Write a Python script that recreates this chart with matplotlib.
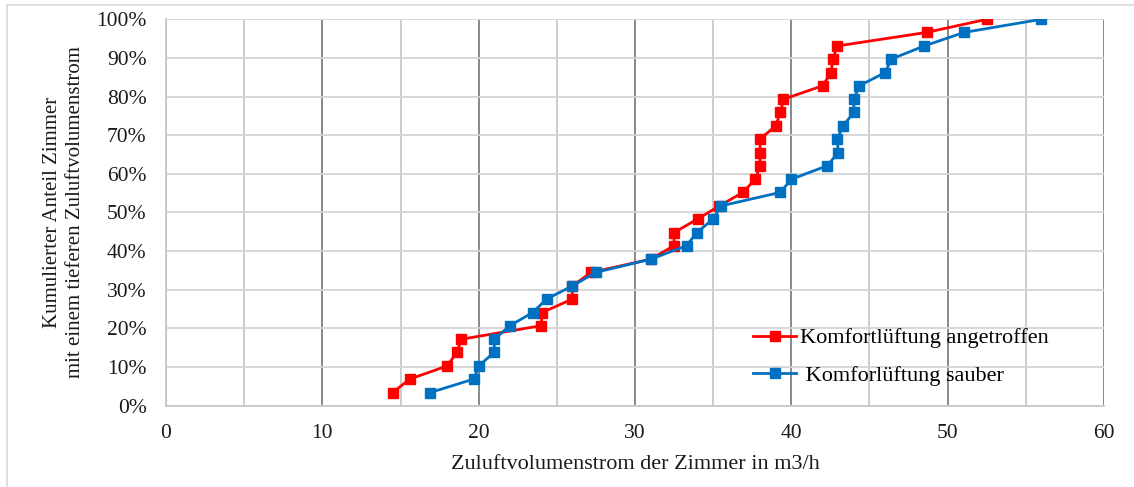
import matplotlib.pyplot as plt
from matplotlib.lines import Line2D
from matplotlib.ticker import FuncFormatter, MultipleLocator

# cumulative share of rooms (%)
share = [3.4, 6.9, 10.3, 13.8, 17.2, 20.7, 24.1, 27.6, 31.0, 34.5,
         37.9, 41.4, 44.8, 48.3, 51.7, 55.2, 58.6, 62.1, 65.5, 69.0,
         72.4, 75.9, 79.3, 82.8, 86.2, 89.7, 93.1, 96.6, 100.0]

# supply air flow per room (m3/h)
flow_found = [14.5, 15.6, 18.0, 18.6, 18.9, 24.0, 24.05, 26.0, 26.0, 27.2,
              31.0, 32.5, 32.5, 34.0, 35.4, 36.9, 37.7, 38.0, 38.0, 38.0,
              39.0, 39.3, 39.5, 42.0, 42.55, 42.65, 42.95, 48.65, 52.5]
flow_clean = [16.9, 19.7, 20.0, 21.0, 21.0, 22.0, 23.45, 24.35, 26.0, 27.5,
              31.0, 33.3, 33.95, 35.0, 35.5, 39.3, 40.0, 42.3, 43.0, 42.95,
              43.3, 44.0, 44.0, 44.35, 46.0, 46.4, 48.5, 51.05, 56.0]

label_found = "Komfortlüftung angetroffen"
label_clean = " Komforlüftung sauber"

plt.rcParams.update({"font.family": ["Liberation Serif", "DejaVu Serif"]})

fig = plt.figure(figsize=(11.34, 4.87), dpi=100)
ax = fig.add_axes([0.1464, 0.167, 0.8271, 0.7934])

# light outer frame like the exported Excel chart
fig.add_artist(Line2D([0.0064, 0.0064], [0, 0.99], transform=fig.transFigure,
                      color="#d9d9d9", linewidth=1.2))
fig.add_artist(Line2D([0.0064, 1.0], [0.99, 0.99], transform=fig.transFigure,
                      color="#d9d9d9", linewidth=1.2))

ax.plot(flow_found, share, color="#ff0000", marker="s", markersize=7,
        linewidth=2, label=label_found, zorder=3)
ax.plot(flow_clean, share, color="#0070c0", marker="s", markersize=7,
        linewidth=2, label=label_clean, zorder=3)

ax.set_xlim(0, 60)
ax.set_ylim(0, 100)
ax.xaxis.set_major_locator(MultipleLocator(10))
ax.xaxis.set_minor_locator(MultipleLocator(5))
ax.yaxis.set_major_locator(MultipleLocator(10))
ax.yaxis.set_major_formatter(FuncFormatter(lambda v, _: f"{v:.0f}%"))

ax.grid(True, which="major", axis="x", color="#808080", linewidth=1.3)
ax.grid(True, which="minor", axis="x", color="#c8c8c8", linewidth=1.3)
ax.grid(True, which="major", axis="y", color="#d4d4d4", linewidth=1.3)
ax.set_axisbelow(True)

for side in ("top", "right"):
    ax.spines[side].set_visible(False)
for side in ("left", "bottom"):
    ax.spines[side].set_color("#c8c8c8")
    ax.spines[side].set_linewidth(1.3)

ax.tick_params(which="both", length=0, labelsize=15.5, colors="#1a1a1a")
ax.tick_params(axis="x", pad=13)
ax.tick_params(axis="y", pad=14)

ax.set_xlabel("Zuluftvolumenstrom der Zimmer in m3/h", fontsize=16,
              color="#1a1a1a", labelpad=9)
ax.set_ylabel("Kumulierter Anteil Zimmer\nmit einem tieferen Zuluftvolumenstrom",
              fontsize=15, color="#1a1a1a", labelpad=8, linespacing=1.3)

ax.legend(loc="lower left", bbox_to_anchor=(0.605, 0.0), frameon=False,
          fontsize=16, handlelength=1.9, handletextpad=0.2, labelspacing=0.75)

fig.savefig("out.png", dpi=100)
